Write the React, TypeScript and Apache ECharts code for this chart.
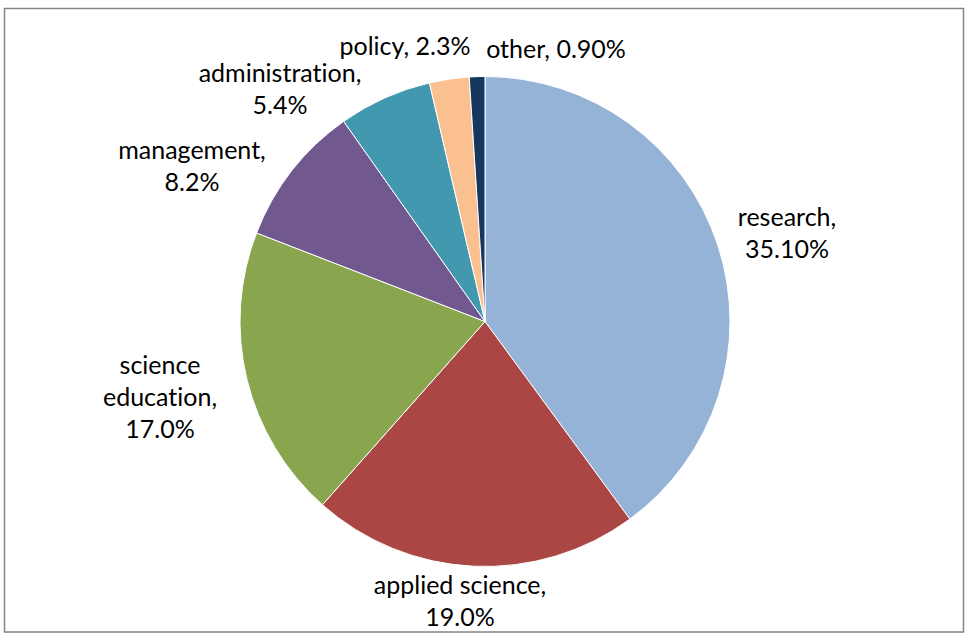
import React, { useEffect, useRef } from "react";
import * as echarts from "echarts";

const categories = [
  "research",
  "applied science",
  "science education",
  "management",
  "administration",
  "policy",
  "other",
];
const values = [35.1, 19.0, 17.0, 8.2, 5.4, 2.3, 0.9];
const valueLabels = ["35.10%", "19.0%", "17.0%", "8.2%", "5.4%", "2.3%", "0.90%"];

// label layout (text block centres) mirroring the reference placement
const labelCentres: [number, number][] = [
  [787, 232],
  [460, 600],
  [160, 396],
  [192, 165],
  [280, 88],
  [405, 45],
  [556, 48],
];
const labelBreaks: Record<string, string> = {
  "science education": "science\neducation,\n",
  research: "research,\n",
  "applied science": "applied science,\n",
  management: "management,\n",
  administration: "administration,\n",
  policy: "policy, ",
  other: "other, ",
};

const colors = ["#95B3D7", "#AA4643", "#89A54E", "#71588F", "#4198AF", "#FAC090", "#17375E"];

export default function App() {
  const ref = useRef<HTMLDivElement>(null);
  useEffect(() => {
    if (!ref.current) return;
    const chart = echarts.init(ref.current, null, { renderer: "svg" });
    chart.setOption({
      animation: false,
      backgroundColor: "#ffffff",
      color: colors,
      graphic: [
        {
          type: "rect",
          shape: { x: 4.5, y: 8.5, width: 959, height: 623.5 },
          style: { fill: "none", stroke: "#868686", lineWidth: 1.5 },
          silent: true,
        },
      ],
      series: [
        {
          type: "pie",
          center: [485, 321.5],
          radius: 245,
          startAngle: 90,
          clockwise: true,
          itemStyle: { borderColor: "#ffffff", borderWidth: 1 },
          label: {
            show: true,
            position: "outside",
            fontFamily: "Lato",
            fontSize: 25,
            lineHeight: 32,
            color: "#000000",
            align: "center",
            formatter: (p: any) => labelBreaks[p.name] + valueLabels[p.dataIndex],
          },
          labelLine: { show: false },
          labelLayout: (p: any) => ({
            x: labelCentres[p.dataIndex][0],
            y: labelCentres[p.dataIndex][1],
            align: "center",
            verticalAlign: "middle",
          }),
          emphasis: { disabled: true },
          data: categories.map((c, i) => ({ name: c, value: values[i] })),
        },
      ],
    });
    return () => chart.dispose();
  }, []);
  return (
    <>
      <style>{`#root text { font-variant-ligatures: none !important; font-feature-settings: "liga" 0, "clig" 0 !important; }`}</style>
      <div
        ref={ref}
        style={{ position: "absolute", left: 0, top: 0, width: 965, height: 633 }}
      />
    </>
  );
}
